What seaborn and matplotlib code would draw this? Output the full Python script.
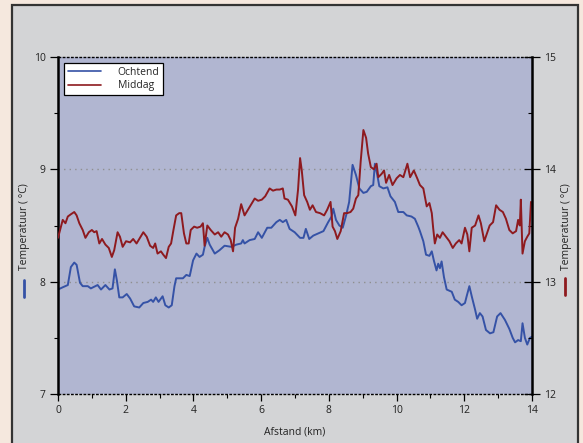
import matplotlib
matplotlib.use("Agg")
import matplotlib.pyplot as plt
from matplotlib.patches import Rectangle
from matplotlib.lines import Line2D
from matplotlib.ticker import MultipleLocator
import seaborn as sns
import pandas as pd

# Morning run (left axis, °C)
ochtend_km = [0.00, 0.14, 0.29, 0.38, 0.48, 0.55, 0.65, 0.73, 0.88, 0.97, 1.17, 1.27, 1.40, 1.52,
              1.61, 1.68, 1.74, 1.81, 1.91, 2.03, 2.13, 2.25, 2.40, 2.52, 2.65, 2.75, 2.81, 2.89,
              2.97, 3.09, 3.17, 3.27, 3.36, 3.44, 3.49, 3.60, 3.69, 3.79, 3.89, 3.99, 4.09, 4.18,
              4.28, 4.33, 4.41, 4.48, 4.63, 4.77, 4.92, 5.12, 5.27, 5.41, 5.46, 5.51, 5.66, 5.81,
              5.91, 6.02, 6.18, 6.30, 6.45, 6.55, 6.64, 6.74, 6.84, 6.99, 7.15, 7.25, 7.32, 7.42,
              7.54, 7.69, 7.84, 7.98, 8.08, 8.13, 8.21, 8.31, 8.41, 8.51, 8.60, 8.70, 8.80, 8.90,
              9.02, 9.12, 9.24, 9.31, 9.36, 9.43, 9.49, 9.61, 9.73, 9.82, 9.95, 10.05, 10.20, 10.30,
              10.44, 10.54, 10.64, 10.69, 10.79, 10.87, 10.97, 11.04, 11.10, 11.18, 11.23, 11.28,
              11.33, 11.40, 11.48, 11.63, 11.72, 11.82, 11.92, 12.02, 12.07, 12.15, 12.22, 12.32,
              12.38, 12.46, 12.54, 12.64, 12.76, 12.86, 12.97, 13.07, 13.20, 13.33, 13.43, 13.50,
              13.59, 13.67, 13.72, 13.79, 13.86, 13.94, 14.00]
ochtend_temp = [7.93, 7.95, 7.97, 8.13, 8.17, 8.15, 7.99, 7.96, 7.96, 7.94, 7.97, 7.93, 7.97, 7.93,
                7.94, 8.11, 8.01, 7.86, 7.86, 7.89, 7.85, 7.78, 7.77, 7.81, 7.82, 7.84, 7.82, 7.86,
                7.82, 7.87, 7.79, 7.77, 7.79, 7.96, 8.03, 8.03, 8.03, 8.06, 8.05, 8.19, 8.25, 8.22,
                8.24, 8.31, 8.39, 8.33, 8.25, 8.28, 8.32, 8.31, 8.33, 8.34, 8.37, 8.34, 8.37, 8.38,
                8.44, 8.39, 8.48, 8.48, 8.53, 8.55, 8.53, 8.55, 8.47, 8.44, 8.39, 8.39, 8.47, 8.38,
                8.41, 8.43, 8.45, 8.53, 8.58, 8.65, 8.55, 8.50, 8.48, 8.59, 8.71, 9.04, 8.95, 8.83,
                8.79, 8.80, 8.85, 8.86, 9.05, 8.95, 8.85, 8.83, 8.84, 8.76, 8.71, 8.62, 8.62, 8.59,
                8.58, 8.56, 8.49, 8.45, 8.36, 8.24, 8.23, 8.27, 8.19, 8.10, 8.16, 8.12,
                8.18, 8.04, 7.93, 7.91, 7.84, 7.82, 7.79, 7.81, 7.87, 7.96, 7.87, 7.75,
                7.67, 7.72, 7.69, 7.57, 7.54, 7.55, 7.69, 7.72, 7.66, 7.58, 7.50, 7.46,
                7.48, 7.47, 7.63, 7.50, 7.44, 7.50, 7.51]

# Afternoon run (right axis, °C)
middag_km = [0.00, 0.06, 0.14, 0.22, 0.29, 0.38, 0.48, 0.55, 0.63, 0.73, 0.81, 0.91, 1.00, 1.07,
             1.14, 1.22, 1.30, 1.40, 1.50, 1.59, 1.66, 1.76, 1.83, 1.91, 2.01, 2.13, 2.22, 2.32,
             2.42, 2.52, 2.62, 2.72, 2.81, 2.87, 2.94, 3.04, 3.11, 3.19, 3.27, 3.34, 3.41, 3.49,
             3.58, 3.64, 3.72, 3.79, 3.86, 3.92, 4.02, 4.11, 4.21, 4.28, 4.33, 4.41, 4.51, 4.63,
             4.73, 4.82, 4.92, 5.02, 5.10, 5.17, 5.23, 5.32, 5.41, 5.51, 5.63, 5.73, 5.81, 5.91,
             6.02, 6.12, 6.25, 6.35, 6.45, 6.55, 6.64, 6.69, 6.79, 6.91, 7.01, 7.09, 7.15, 7.20,
             7.27, 7.36, 7.44, 7.52, 7.62, 7.74, 7.86, 7.95, 8.05, 8.11, 8.18, 8.25, 8.35, 8.45,
             8.54, 8.64, 8.72, 8.80, 8.87, 8.94, 9.02, 9.10, 9.16, 9.24, 9.33, 9.41, 9.46, 9.56,
             9.63, 9.69, 9.78, 9.88, 10.00, 10.10, 10.20, 10.32, 10.40, 10.51, 10.61, 10.69, 10.79,
             10.89, 10.97, 11.04, 11.08, 11.13, 11.20, 11.28, 11.36, 11.46, 11.56, 11.66, 11.75,
             11.85, 11.92, 12.02, 12.09, 12.15, 12.22, 12.32, 12.42, 12.49, 12.59, 12.67, 12.75,
             12.85, 12.94, 13.04, 13.14, 13.23, 13.33, 13.43, 13.53, 13.59, 13.64, 13.67, 13.72,
             13.79, 13.86, 13.92, 13.97]
middag_temp = [13.39, 13.46, 13.55, 13.52, 13.58, 13.60, 13.62, 13.59, 13.52, 13.46, 13.39, 13.44,
               13.46, 13.44, 13.45, 13.34, 13.38, 13.33, 13.30, 13.22, 13.28, 13.44, 13.40, 13.31,
               13.36, 13.35, 13.38, 13.34, 13.39, 13.44, 13.40, 13.32, 13.30, 13.34, 13.25, 13.27,
               13.24, 13.21, 13.31, 13.34, 13.46, 13.59, 13.61, 13.61, 13.43, 13.34, 13.34, 13.46,
               13.49, 13.48, 13.49, 13.52, 13.32, 13.50, 13.46, 13.42, 13.44, 13.40, 13.44, 13.42,
               13.37, 13.27, 13.48, 13.56, 13.69, 13.59, 13.65, 13.70, 13.74, 13.72, 13.73, 13.76,
               13.83, 13.81, 13.82, 13.82, 13.83, 13.74, 13.73, 13.67, 13.59, 13.82, 14.10, 13.99,
               13.77, 13.71, 13.64, 13.68, 13.62, 13.61, 13.59, 13.64, 13.71, 13.49, 13.45, 13.38,
               13.45, 13.61, 13.61, 13.62, 13.65, 13.74, 13.77, 14.07, 14.35, 14.28, 14.14, 14.02,
               14.00, 14.05, 13.93, 13.96, 13.99, 13.88, 13.95, 13.86, 13.92, 13.95, 13.93, 14.05,
               13.93, 13.99, 13.92, 13.86, 13.83, 13.67, 13.70, 13.61, 13.48, 13.34, 13.42, 13.39,
               13.44, 13.40, 13.36, 13.30, 13.34, 13.37, 13.34, 13.48, 13.42, 13.27, 13.48, 13.50,
               13.59, 13.52, 13.36, 13.43, 13.50, 13.53, 13.68, 13.64, 13.62, 13.56, 13.46, 13.43,
               13.45, 13.55, 13.50, 13.73, 13.25, 13.36, 13.40, 13.43, 13.71]

x_ticks = [0, 2, 4, 6, 8, 10, 12, 14]
left_ticks = [7, 8, 9, 10]
right_ticks = [12, 13, 14, 15]

series_names = ["Ochtend", "Middag"]
x_label = "Afstand (km)"
y_label = "Temperatuur ( °C)"

BLUE = "#3552a6"
RED = "#8e1a1f"
FACE = "#b1b6d1"
PANEL = "#d3d4d6"
OUTER = "#f5e8de"

sns.set_theme(style="white")
plt.rcParams["font.family"] = ["Open Sans", "DejaVu Sans"]

W, H = 583, 443
fig = plt.figure(figsize=(W / 100, H / 100), dpi=100, facecolor=OUTER)

# grey panel with dark border
fig.add_artist(Rectangle((12 / W, -0.05), (578 - 12) / W, (H - 5) / H + 0.05,
                         transform=fig.transFigure, facecolor=PANEL,
                         edgecolor="#333333", linewidth=1.6, zorder=0))

ax = fig.add_axes([58 / W, (H - 394) / H, (532 - 58) / W, (394 - 57) / H])
ax.set_facecolor(FACE)
ax2 = ax.twinx()

df_o = pd.DataFrame({"km": ochtend_km, "temp": ochtend_temp})
df_m = pd.DataFrame({"km": middag_km, "temp": middag_temp})
sns.lineplot(data=df_o, x="km", y="temp", ax=ax, color=BLUE, linewidth=1.4,
             label=series_names[0], legend=False)
sns.lineplot(data=df_m, x="km", y="temp", ax=ax2, color=RED, linewidth=1.4,
             label=series_names[1], legend=False)

ax.set_xlim(0, 14)
ax.set_ylim(7, 10)
ax2.set_ylim(12, 15)
ax.set_xticks(x_ticks)
ax.set_yticks(left_ticks)
ax2.set_yticks(right_ticks)
ax.xaxis.set_minor_locator(MultipleLocator(1))
ax.yaxis.set_minor_locator(MultipleLocator(0.5))
ax2.yaxis.set_minor_locator(MultipleLocator(0.5))
ax.set_xlabel("")
ax.set_ylabel("")
ax2.set_ylabel("")

for a in (ax, ax2):
    a.grid(False)

# dotted horizontal guides
for v in left_ticks[1:-1]:
    ax.axhline(v, color="#8f8f8f", linestyle=(0, (1, 3)), linewidth=1.0, zorder=0.5)

# spines
for a in (ax, ax2):
    for side in ("top", "bottom"):
        a.spines[side].set_visible(False)
    a.spines["left"].set_visible(False)
    a.spines["right"].set_visible(False)
ax.spines["left"].set_visible(True)
ax.spines["left"].set_color("black")
ax.spines["left"].set_linewidth(1.8)
ax2.spines["right"].set_visible(True)
ax2.spines["right"].set_color("black")
ax2.spines["right"].set_linewidth(1.8)
for yv in (7, 10):
    ax.axhline(yv, color="black", linestyle=(0, (2, 1)), linewidth=1.0, zorder=3, clip_on=False)

ax.tick_params(axis="x", which="major", direction="out", length=5, width=0.9, color="black",
               labelsize=7.5, labelcolor="#222222", pad=3, bottom=True)
ax.tick_params(axis="x", which="minor", direction="out", length=3, width=0.8, color="black", bottom=True)
ax.tick_params(axis="y", which="major", direction="out", length=6, width=0.9, color="black",
               labelsize=7.5, labelcolor="#222222", pad=3, left=True)
ax.tick_params(axis="y", which="minor", direction="out", length=3, width=0.8, color="black", left=True)
ax2.tick_params(axis="y", which="major", direction="inout", length=12, width=0.9, color="black",
                labelsize=7.5, labelcolor="#222222", pad=3, right=True)
ax2.tick_params(axis="y", which="minor", direction="in", length=3, width=0.8, color="black", right=True)

# legend combining both axes
handles = [Line2D([], [], color=BLUE, linewidth=1.2), Line2D([], [], color=RED, linewidth=1.2)]
leg = ax.legend(handles, series_names, loc="upper left", bbox_to_anchor=(6 / 474, 1 - 6 / 337),
                frameon=True, fancybox=False, framealpha=1, facecolor="white", edgecolor="black",
                fontsize=7.5, handlelength=3.2, handletextpad=1.6, borderpad=0.35,
                labelspacing=0.25, borderaxespad=0)
leg.get_frame().set_linewidth(0.9)
leg.set_zorder(10)

# axis titles
fig.text(295 / W, 1 - 432 / H, x_label, ha="center", va="center", fontsize=7.5, color="#222222")
fig.text(25 / W, 1 - 227 / H, y_label, ha="center", va="center", rotation=90,
         fontsize=7.5, color="#222222")
fig.text(566 / W, 1 - 227 / H, y_label, ha="center", va="center", rotation=90,
         fontsize=7.5, color="#222222")
fig.add_artist(Line2D([24 / W, 24 / W], [1 - 280 / H, 1 - 297 / H], color=BLUE, linewidth=2.0,
                      transform=fig.transFigure))
fig.add_artist(Line2D([565 / W, 565 / W], [1 - 278 / H, 1 - 295 / H], color=RED, linewidth=2.0,
                      transform=fig.transFigure))

fig.savefig("out.png", dpi=100, facecolor=OUTER)
